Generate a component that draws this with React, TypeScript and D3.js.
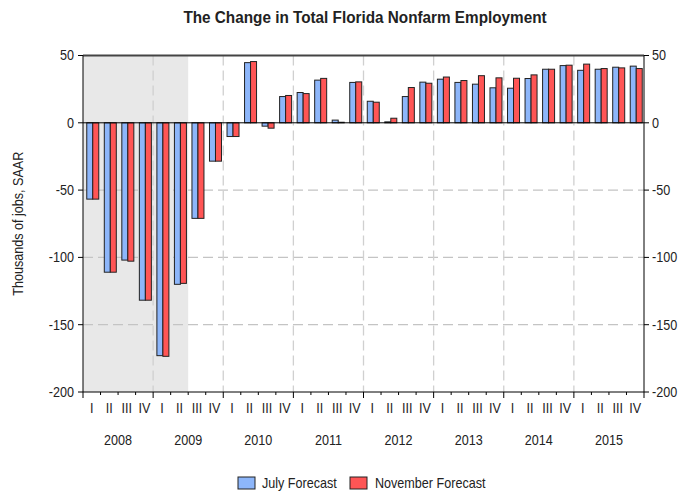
import React from "react";
import * as d3 from "d3";

const quarters = ["I", "II", "III", "IV"];
const years = ["2008", "2009", "2010", "2011", "2012", "2013", "2014", "2015"];
const julyForecast = [
  -56.7, -111, -102, -131.8, -173, -120, -71, -28.5,
  -10.2, 44.7, -2.5, 19.5, 22.5, 31.7, 2, 30,
  16, 0.7, 19.5, 30.2, 32.4, 30, 28.7, 26,
  25.7, 32.9, 39.8, 42.5, 39, 39.8, 41.3, 42.1,
];
const novemberForecast = [
  -56.7, -111, -102.8, -131.8, -173.5, -119.3, -71, -28.5,
  -10.2, 45.5, -4, 20.3, 21.7, 33, 0.4, 30.4,
  15.3, 3.4, 26.2, 29.4, 34, 31.4, 35, 33.4,
  33.1, 35.6, 39.8, 42.8, 43.6, 40.3, 40.8, 40.3,
];
const yTicks = [50, 0, -50, -100, -150, -200];
const seriesNames = ["July Forecast", "November Forecast"];
const recessionQuarters = 6;

const W = 690;
const H = 493;
const M = { left: 83, right: 644, top: 55.5, bottom: 392 };
const FONT = "'Liberation Sans', Arial, sans-serif";
const BLUE = "#8DB6FA";
const RED = "#FF5555";
const SX = 0.9;

function NText({ x, y, anchor = "start", size = 14, weight = "normal", rotate = 0, children }: any) {
  return (
    <text
      transform={`translate(${x},${y}) rotate(${rotate}) scale(${SX},1)`}
      textAnchor={anchor}
      dy="0.35em"
      fontFamily={FONT}
      fontSize={size}
      fontWeight={weight}
      fill="#222"
    >
      {children}
    </text>
  );
}

export default function App() {
  const n = julyForecast.length;
  const idx = d3.range(n);
  const x = d3.scaleBand<number>().domain(idx).range([M.left, M.right]).paddingInner(0).paddingOuter(0);
  const y = d3.scaleLinear().domain([-200, 50]).range([M.bottom, M.top]);
  const bw = x.bandwidth();
  const barW = 6;
  const gx = d3.scaleBand<number>().domain([0, 1]).range([0, barW * 2]);

  const barRect = (i: number, s: number, v: number) => {
    const x0 = (x(i) as number) + bw / 2 - barW + 1 + (gx(s) as number);
    const y0 = Math.min(y(v), y(0));
    const h = Math.abs(y(v) - y(0));
    return { x: x0, y: y0, w: barW, h };
  };

  const yearX = (k: number) => x(k * 4) as number;

  return (
    <svg width={W} height={H} style={{ position: "absolute", left: 0, top: 0, background: "#fff" }}>
      <rect x={M.left} y={M.top} width={(x(recessionQuarters) as number) - M.left} height={M.bottom - M.top} fill="#E8E8E8" />
      {yTicks.filter((t) => t !== 50 && t !== 0 && t !== -200).map((t) => (
        <line key={"g" + t} x1={M.left} x2={M.right} y1={y(t)} y2={y(t)} stroke="#C4C4C4" strokeWidth={1.3} strokeDasharray="10,5" />
      ))}
      {years.slice(1).map((yr, k) => (
        <line key={"v" + yr} x1={yearX(k + 1)} x2={yearX(k + 1)} y1={M.top} y2={M.bottom} stroke="#D0D0D0" strokeWidth={1.3} strokeDasharray="10,5" />
      ))}
      {idx.map((i) => {
        const a = barRect(i, 0, julyForecast[i]);
        const b = barRect(i, 1, novemberForecast[i]);
        return (
          <g key={"b" + i}>
            <rect x={a.x} y={a.y} width={a.w} height={a.h} fill={BLUE} stroke="#222" strokeWidth={1} />
            <rect x={b.x} y={b.y} width={b.w} height={b.h} fill={RED} stroke="#222" strokeWidth={1} />
          </g>
        );
      })}
      <line x1={M.left} x2={M.right} y1={y(0)} y2={y(0)} stroke="#000" strokeWidth={1} />
      <line x1={M.left} x2={M.right} y1={M.top} y2={M.top} stroke="#444" strokeWidth={2} />
      <line x1={M.left} x2={M.left} y1={M.top} y2={M.bottom} stroke="#000" strokeWidth={1} />
      <line x1={M.right} x2={M.right} y1={M.top} y2={M.bottom} stroke="#000" strokeWidth={1} />
      <line x1={M.left} x2={M.right} y1={M.bottom} y2={M.bottom} stroke="#000" strokeWidth={1} />
      {yTicks.map((t) => (
        <g key={"t" + t}>
          <line x1={M.left - 5} x2={M.left} y1={y(t)} y2={y(t)} stroke="#000" />
          <line x1={M.right} x2={M.right + 5} y1={y(t)} y2={y(t)} stroke="#000" />
          <NText x={M.left - 9} y={y(t)} anchor="end">{t}</NText>
          <NText x={M.right + 8} y={y(t)} anchor="start">{t}</NText>
        </g>
      ))}
      {d3.range(n + 1).map((i) => {
        const xp = i < n ? (x(i) as number) : M.right;
        const major = i % 4 === 0;
        return <line key={"xt" + i} x1={xp} x2={xp} y1={M.bottom} y2={M.bottom + (major ? 6 : 3)} stroke="#000" strokeWidth={1} />;
      })}
      {idx.map((i) => (
        <NText key={"q" + i} x={(x(i) as number) + bw / 2} y={408} anchor="middle">{quarters[i % 4]}</NText>
      ))}
      {years.map((yr, k) => (
        <NText key={"y" + yr} x={yearX(k) + bw * 2} y={440} anchor="middle">{yr}</NText>
      ))}
      <NText x={18} y={(M.top + M.bottom) / 2} anchor="middle" rotate={-90}>Thousands of jobs, SAAR</NText>
      <NText x={365} y={17} anchor="middle" size={17} weight="bold">The Change in Total Florida Nonfarm Employment</NText>
      <rect x={238} y={477} width={17} height={12} fill={BLUE} stroke="#222" />
      <NText x={262} y={483}>{seriesNames[0]}</NText>
      <rect x={350} y={477} width={17} height={12} fill={RED} stroke="#222" />
      <NText x={375} y={483}>{seriesNames[1]}</NText>
    </svg>
  );
}
